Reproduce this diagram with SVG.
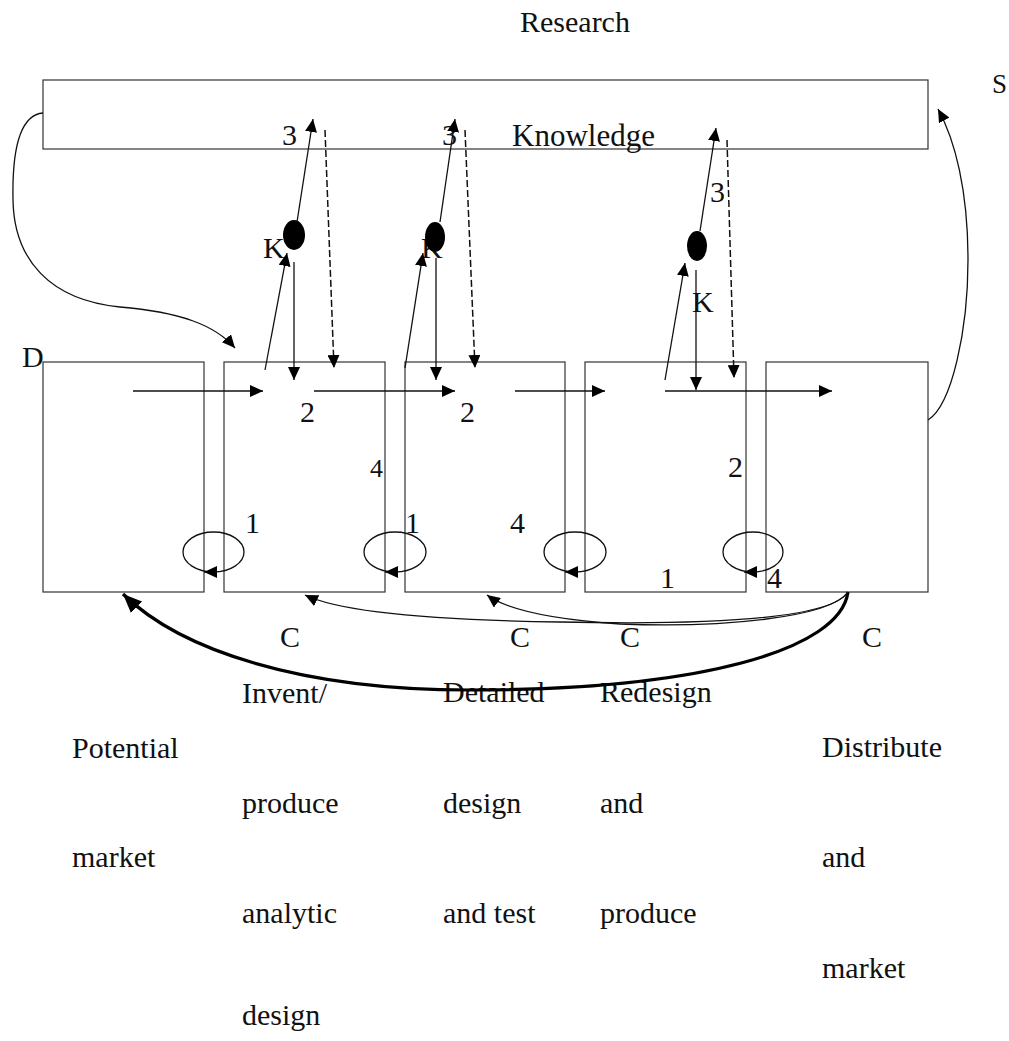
<svg xmlns="http://www.w3.org/2000/svg" width="1009" height="1041" viewBox="0 0 1009 1041">
<defs>
<style>
text{font-family:"Liberation Serif","Times New Roman",serif;font-size:30px;fill:#111}
.box{fill:none;stroke:#333;stroke-width:1.2}
.ln{fill:none;stroke:#111;stroke-width:1.3}
.dash{fill:none;stroke:#111;stroke-width:1.5;stroke-dasharray:7 3}
.thick{fill:none;stroke:#000;stroke-width:3.2}
.dot{fill:#000}
</style>
<marker id="ah" markerUnits="userSpaceOnUse" markerWidth="14" markerHeight="12" refX="13" refY="6" orient="auto">
<path d="M0,0 L13,6 L0,12 z" fill="#000"/>
</marker>
<marker id="ahb" markerUnits="userSpaceOnUse" markerWidth="20" markerHeight="16" refX="19" refY="8" orient="auto">
<path d="M0,0 L19,8 L0,16 z" fill="#000"/>
</marker>
</defs>
<rect width="1009" height="1041" fill="#fff"/>

<g id="research-knowledge">
<rect class="box" x="43" y="80" width="885" height="69"/>
<text x="520" y="32">Research</text>
<text x="512" y="146" style="font-size:31px">Knowledge</text>
</g>
<text id="label-S" x="992" y="93" style="font-size:27px">S</text>

<g id="box-potential-market">
<rect class="box" x="43" y="362" width="161" height="230"/>
<text x="22" y="367">D</text>
<text x="72" y="758">Potential</text>
<text x="72" y="867">market</text>
</g>
<g id="box-invent">
<rect class="box" x="224" y="362" width="161" height="230"/>
<text x="280" y="647">C</text>
<text x="242" y="703">Invent/</text>
<text x="242" y="813">produce</text>
<text x="242" y="923">analytic</text>
<text x="242" y="1025">design</text>
</g>
<g id="box-detailed">
<rect class="box" x="405" y="362" width="160" height="230"/>
<text x="510" y="647">C</text>
<text x="443" y="702">Detailed</text>
<text x="443" y="813">design</text>
<text x="443" y="923">and test</text>
</g>
<g id="box-redesign">
<rect class="box" x="585" y="362" width="161" height="230"/>
<text x="620" y="647">C</text>
<text x="600" y="702">Redesign</text>
<text x="600" y="813">and</text>
<text x="600" y="923">produce</text>
</g>
<g id="box-distribute">
<rect class="box" x="766" y="362" width="162" height="230"/>
<text x="862" y="647">C</text>
<text x="822" y="757">Distribute</text>
<text x="822" y="867">and</text>
<text x="822" y="978">market</text>
</g>

<g id="knowledge-node-1">
<ellipse class="dot" cx="294" cy="235" rx="11" ry="15"/>
<text x="263" y="258">K</text>
<text x="282" y="145">3</text>
</g>
<g id="knowledge-node-2">
<text x="421" y="258">K</text>
<ellipse class="dot" cx="435" cy="237" rx="10" ry="15"/>
<text x="442" y="145">3</text>
</g>
<g id="knowledge-node-3">
<ellipse class="dot" cx="697" cy="246" rx="10" ry="15"/>
<text x="692" y="312">K</text>
<text x="710" y="202">3</text>
</g>

<g id="labels">
<text x="300" y="422">2</text>
<text x="460" y="422">2</text>
<text x="728" y="477">2</text>
<text x="370" y="477" style="font-size:26px">4</text>
<text x="510" y="533">4</text>
<text x="767" y="588">4</text>
<text x="245" y="533">1</text>
<text x="405" y="533">1</text>
<text x="660" y="588">1</text>
</g>

<g id="connectors">
<path class="ln" d="M133,391 L263,391" marker-end="url(#ah)"/>
<path class="ln" d="M314,391 L455,391" marker-end="url(#ah)"/>
<path class="ln" d="M515,391 L605,391" marker-end="url(#ah)"/>
<path class="ln" d="M665,391 L832,391" marker-end="url(#ah)"/>
<path class="ln" d="M294,262 L294,380" marker-end="url(#ah)"/>
<path class="ln" d="M436,258 L436,380" marker-end="url(#ah)"/>
<path class="ln" d="M696,270 L696,390" marker-end="url(#ah)"/>
<path class="dash" d="M325,130 L334,368" marker-end="url(#ah)"/>
<path class="dash" d="M465,130 L475,368" marker-end="url(#ah)"/>
<path class="dash" d="M727,140 L734,378" marker-end="url(#ah)"/>
<path class="ln" d="M265,370 L287,253" marker-end="url(#ah)"/>
<path class="ln" d="M405,368 L423,253" marker-end="url(#ah)"/>
<path class="ln" d="M665,380 L685,263" marker-end="url(#ah)"/>
<path class="ln" d="M297,222 L313,119" marker-end="url(#ah)"/>
<path class="ln" d="M440,222 L455,119" marker-end="url(#ah)"/>
<path class="ln" d="M700,231 L716,128" marker-end="url(#ah)"/>
<ellipse class="ln" cx="213.5" cy="552" rx="30.5" ry="20"/>
<path class="ln" d="M215,572 L204,572" marker-end="url(#ah)"/>
<ellipse class="ln" cx="395" cy="552" rx="31" ry="20"/>
<path class="ln" d="M397,572 L385,572" marker-end="url(#ah)"/>
<ellipse class="ln" cx="575" cy="552" rx="31" ry="20"/>
<path class="ln" d="M577,572 L565,572" marker-end="url(#ah)"/>
<ellipse class="ln" cx="753" cy="552" rx="30" ry="20"/>
<path class="ln" d="M755,572 L744,572" marker-end="url(#ah)"/>
<path class="ln" d="M43,113 C20,115 12,150 13,200 C14,260 50,300 120,307 C180,312 215,325 235,348" marker-end="url(#ah)"/>
<path class="ln" d="M928,420 C952,405 968,330 968,260 C968,190 955,140 938,109" marker-end="url(#ah)"/>
<path class="thick" d="M848,592 C840,650 700,690 470,690 C300,690 180,650 123,594" marker-end="url(#ahb)"/>
<path class="ln" d="M848,592 C830,620 700,625 560,622 C430,620 340,612 305,595" marker-end="url(#ah)"/>
<path class="ln" d="M848,592 C830,618 720,628 620,624 C560,620 510,612 487,595" marker-end="url(#ah)"/>
</g>
</svg>
